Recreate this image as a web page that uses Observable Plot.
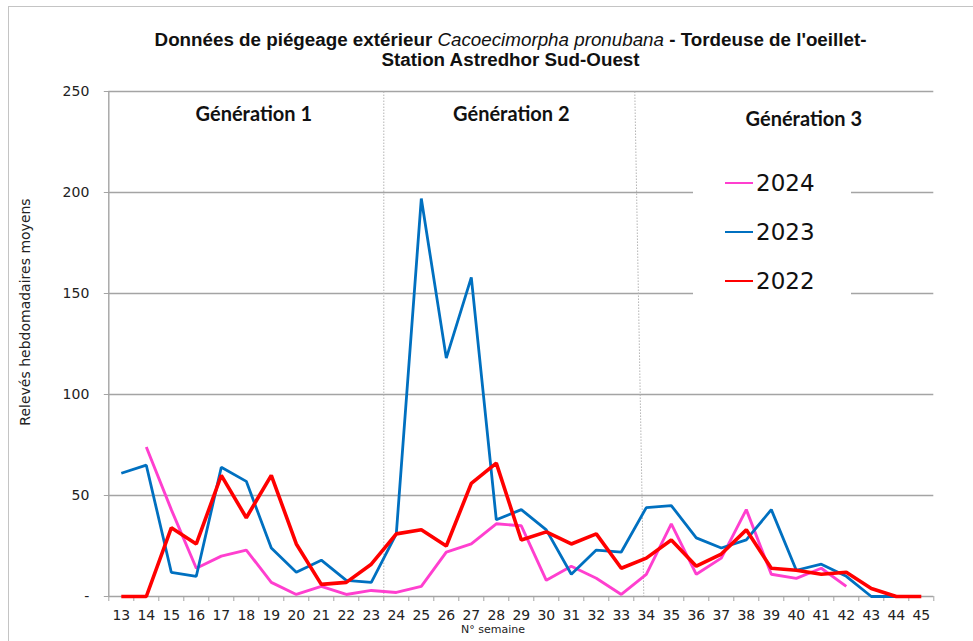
<!DOCTYPE html>
<html>
<head>
<meta charset="utf-8">
<script src="https://cdn.jsdelivr.net/npm/d3@7"></script>
<script src="https://cdn.jsdelivr.net/npm/@observablehq/plot@0.6"></script>
<style>
  html, body { margin: 0; padding: 0; background: #fff; overflow: hidden; }
  #wrap { position: relative; width: 973px; height: 641px; overflow: hidden; }
  #frame { position: absolute; left: 8px; top: 6px; width: 990px; height: 660px; border: 1px solid #c4c4c4; box-sizing: border-box; }
  #title { position: absolute; left: 24px; top: 30px; width: 973px; text-align: center; font-family: "Liberation Sans", Arial, sans-serif; font-weight: bold; font-size: 18.8px; line-height: 20px; color: #111; }
  #title i { font-weight: normal; }
  #ytitle { position: absolute; left: 25px; top: 312px; transform: translate(-50%, -50%) rotate(-90deg); white-space: nowrap; font-family: "DejaVu Sans", sans-serif; font-size: 14px; color: #222; }
  #xtitle { position: absolute; left: 493px; top: 629px; transform: translate(-50%, -50%); white-space: nowrap; font-family: "DejaVu Sans", sans-serif; font-size: 11px; color: #222; }
  #legend { position: absolute; left: 693px; top: 160px; width: 158px; height: 141px; background: #fff; }
  .item { position: absolute; left: 32px; height: 28px; display: flex; align-items: center; font-family: "DejaVu Sans", sans-serif; font-size: 23px; color: #111; }
  .swatch { width: 28px; height: 2.5px; margin-right: 3px; }
  svg { position: absolute; left: 0; top: 0; }
</style>
</head>
<body>
<div id="wrap">
  <div id="frame"></div>
</div>
<script>
// ---- data ----
const weeks = [13,14,15,16,17,18,19,20,21,22,23,24,25,26,27,28,29,30,31,32,33,34,35,36,37,38,39,40,41,42,43,44,45];
const weeks2024 = [14,15,16,17,18,19,20,21,22,23,24,25,26,27,28,29,30,31,32,33,34,35,36,37,38,39,40,41,42];
const values2024 = [74,43,14,20,23,7,1,5,1,3,2,5,22,26,36,35,8,15,9,1,11,36,11,19,43,11,9,14,5];
const weeks2023 = [13,14,15,16,17,18,19,20,21,22,23,24,25,26,27,28,29,30,31,32,33,34,35,36,37,38,39,40,41,42,43,44];
const values2023 = [61,65,12,10,64,57,24,12,18,8,7,31,197,118,158,38,43,33,11,23,22,44,45,29,24,28,43,13,16,10,0,0];
const weeks2022 = [13,14,15,16,17,18,19,20,21,22,23,24,25,26,27,28,29,30,31,32,33,34,35,36,37,38,39,40,41,42,43,44,45];
const values2022 = [0,0,34,26,60,39,60,26,6,7,16,31,33,25,56,66,28,32,26,31,14,19,28,15,21,33,14,13,11,12,4,0,0];
const years = ["2024","2023","2022"];
const colors = ["#ff3fcf","#0070c0","#ff0000"];
const widths = [2.9,2.8,3.6];
const yTicks = [0,50,100,150,200,250];
const generationLabels = ["Génération 1","Génération 2","Génération 3"];
const generationWeeks = [18.3,28.6,40.3];
const generationLevels = [238.5,238.5,236];
const separatorTop = [23.5,33.54];
const separatorBottom = [23.5,33.9];
const titleLine1 = "Données de piégeage extérieur ";
const titleItalic = "Cacoecimorpha pronubana";
const titleLine1End = " - Tordeuse de l'oeillet-";
const titleLine2 = "Station Astredhor Sud-Ouest";
const yLabel = "Relevés hebdomadaires moyens";
const xLabel = "N° semaine";

// ---- build table ----
const seriesWeeks = [weeks2024, weeks2023, weeks2022];
const seriesValues = [values2024, values2023, values2022];
const rows = [];
years.forEach((y, k) => seriesWeeks[k].forEach((w, i) => rows.push({year: y, week: w, value: seriesValues[k][i]})));
const boundaries = weeks.map(w => w - 0.5).concat([weeks[weeks.length - 1] + 0.5]);
const gens = generationLabels.map((t, i) => ({t, x: generationWeeks[i], y: generationLevels[i]}));
const seps = separatorTop.map((x, i) => ({x1: x, x2: separatorBottom[i]}));

const chart = Plot.plot({
  width: 973,
  height: 641,
  marginLeft: 108.3,
  marginRight: 39.7,
  marginTop: 91,
  marginBottom: 45,
  x: {type: "linear", domain: [boundaries[0], boundaries[boundaries.length - 1]]},
  y: {domain: [0, 250]},
  style: {background: "transparent", fontFamily: "DejaVu Sans, sans-serif", overflow: "visible"},
  marks: [
    Plot.ruleY(yTicks.filter(d => d > 0), {stroke: "#a4a4a4", strokeWidth: 1.4}),
    Plot.link(seps, {x1: "x1", x2: "x2", y1: 250, y2: 0, stroke: "#b4b4b4", strokeWidth: 1, strokeDasharray: "1.5,1.5"}),
    Plot.ruleX([boundaries[0]], {stroke: "#a4a4a4", strokeWidth: 1.4}),
    Plot.ruleY([0], {stroke: "#a4a4a4", strokeWidth: 1.4}),
    Plot.axisY({ticks: yTicks, tickFormat: d => d === 0 ? "-" : String(d), tickSize: 4.5, tickPadding: 15, fontSize: 14, label: null, stroke: "#a4a4a4", color: "#222"}),
    Plot.axisX({ticks: boundaries, tickSize: 5, tickFormat: () => "", label: null, stroke: "#a4a4a4"}),
    Plot.axisX({ticks: weeks, tickSize: 0, tickPadding: 14, fontSize: 14, label: null, color: "#222", tickFormat: d => String(d)}),
    Plot.text(gens, {x: "x", y: "y", text: "t", fontFamily: "Lato, sans-serif", fontWeight: "bold", fontSize: 20, fill: "#111"}),
    ...years.map((yr, k) => Plot.line(rows.filter(r => r.year === yr), {x: "week", y: "value", stroke: colors[k], strokeWidth: widths[k], strokeLinejoin: "miter", strokeLinecap: "butt"}))
  ]
});

const wrap = document.getElementById("wrap");
wrap.appendChild(chart);

const title = document.createElement("div");
title.id = "title";
const l1 = document.createElement("div");
l1.append(titleLine1);
const it = document.createElement("i"); it.textContent = titleItalic; l1.append(it);
l1.append(titleLine1End);
const l2 = document.createElement("div"); l2.textContent = titleLine2;
title.append(l1, l2);
wrap.appendChild(title);

const yt = document.createElement("div"); yt.id = "ytitle"; yt.textContent = yLabel; wrap.appendChild(yt);
const xt = document.createElement("div"); xt.id = "xtitle"; xt.textContent = xLabel; wrap.appendChild(xt);

const legend = document.createElement("div"); legend.id = "legend";
years.forEach((yr, k) => {
  const item = document.createElement("div"); item.className = "item";
  item.style.top = (9 + k * 49) + "px";
  const sw = document.createElement("div"); sw.className = "swatch"; sw.style.background = colors[k];
  const tx = document.createElement("span"); tx.textContent = yr;
  item.append(sw, tx); legend.appendChild(item);
});
wrap.appendChild(legend);
</script>
</body>
</html>
